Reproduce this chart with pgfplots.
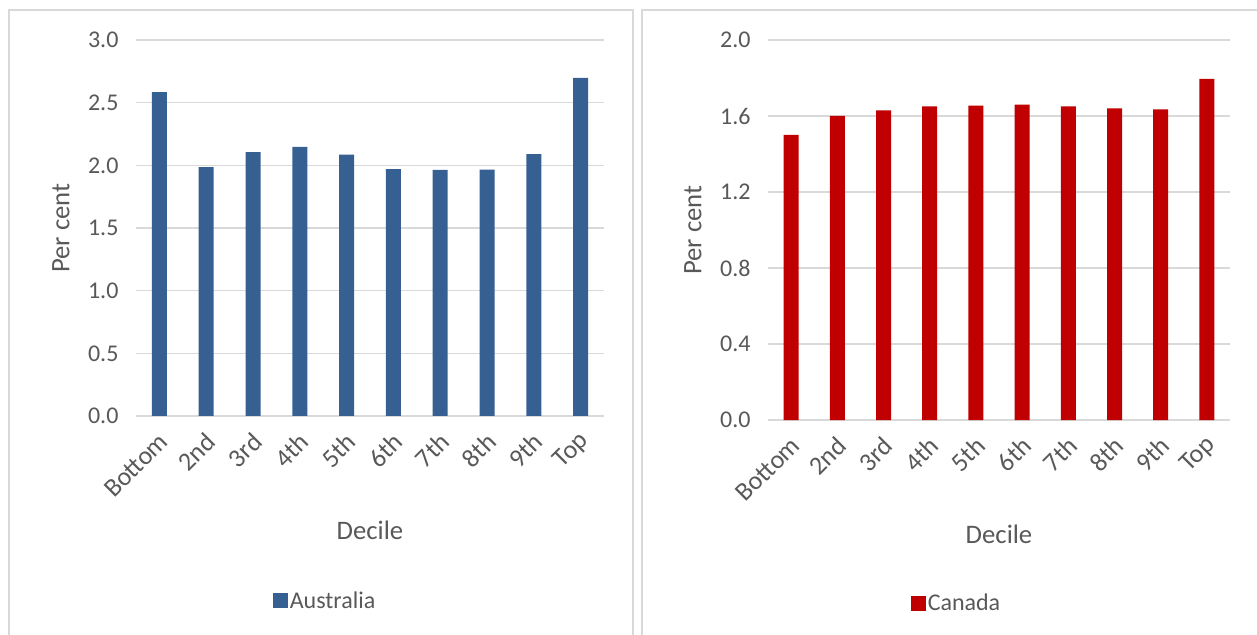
\documentclass[border=0pt]{standalone}
\usepackage{fontspec}
\setmainfont{Carlito}
\usepackage{pgfplots}
\pgfplotsset{compat=1.18}
\definecolor{aublue}{RGB}{55,96,146}
\definecolor{cared}{RGB}{192,0,0}
\definecolor{txt}{RGB}{89,89,89}
\definecolor{gridc}{RGB}{217,217,217}
\pgfplotsset{
  decstyle/.style={
    scale only axis,
    ybar,
    bar width=15pt,
    xmin=-0.5, xmax=9.5,
    xtick={0,...,9},
    xticklabels={Bottom,2nd,3rd,4th,5th,6th,7th,8th,9th,Top},
    ymin=0,
    axis x line*=bottom,
    axis y line*=left,
    y axis line style={draw=none},
    x axis line style={draw=gridc, line width=1.4pt},
    ymajorgrids,
    grid style={draw=gridc, line width=1.4pt},
    major tick length=0pt,
    tick label style={font=\fontsize{24}{28}\selectfont, text=txt},
    /pgf/number format/assume math mode=true,
    yticklabel style={/pgf/number format/fixed, /pgf/number format/fixed zerofill, /pgf/number format/precision=1, xshift=-14pt},
    xticklabel style={font=\fontsize{26}{30}\selectfont, xshift=6pt, yshift=-20pt, inner sep=2pt, anchor=east, rotate=45},
    xlabel style={at={(axis description cs:0.5,0)}, anchor=center, yshift=-114pt, font=\fontsize{26.7}{30}\selectfont, text=txt},
    ylabel style={at={(axis description cs:0,0.5)}, anchor=center, yshift=75pt, font=\fontsize{26.7}{30}\selectfont, text=txt},
    xlabel={Decile},
    ylabel={Per cent},
    legend style={draw=none, fill=none, anchor=center, font=\fontsize{24}{28}\selectfont, text=txt, inner sep=0pt},
    legend image code/.code={\fill[##1] (-3pt,-7.5pt) rectangle (12pt,7.5pt);},
  }
}
\begin{document}
\begin{tikzpicture}
\useasboundingbox (0,0) rectangle (1257pt,634pt);
\fill[white] (0,0) rectangle (1257pt,634pt);
\draw[gridc, line width=1.5pt] (9pt,-2pt) |- (633pt,624pt) -- (633pt,-2pt);
\draw[gridc, line width=1.5pt] (1260pt,624pt) -| (642pt,-2pt);
\begin{axis}[decstyle,
  at={(136pt,218pt)}, anchor=south west,
  width=468pt, height=376pt,
  ymax=3, ytick={0,0.5,1,1.5,2,2.5,3},
  legend style={at={(axis description cs:0.404,-0.492)}}]
\addplot[fill=aublue, draw=none] coordinates {
(0,2.585) (1,1.985) (2,2.105) (3,2.148) (4,2.085) (5,1.970) (6,1.963) (7,1.965) (8,2.090) (9,2.697)};
\addlegendentry{Australia}
\end{axis}
\begin{axis}[decstyle,
  at={(768pt,214pt)}, anchor=south west,
  width=462pt, height=380pt,
  ymax=2, ytick={0,0.4,0.8,1.2,1.6,2.0},
  legend style={at={(axis description cs:0.408,-0.482)}}]
\addplot[fill=cared, draw=none] coordinates {
(0,1.50) (1,1.60) (2,1.63) (3,1.65) (4,1.655) (5,1.66) (6,1.65) (7,1.64) (8,1.635) (9,1.795)};
\addlegendentry{Canada}
\end{axis}
\end{tikzpicture}
\end{document}
